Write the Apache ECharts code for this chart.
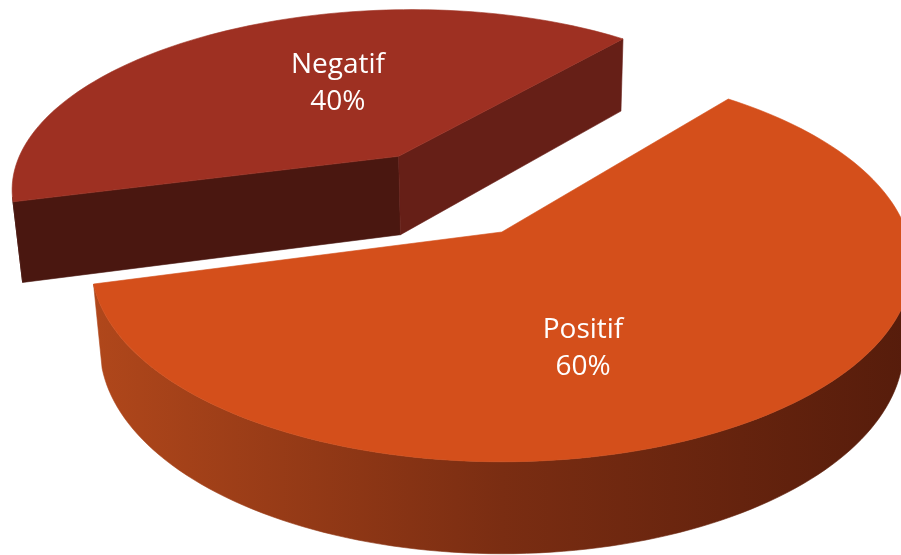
<!DOCTYPE html>
<html>
<head>
<meta charset="utf-8">
<script src="https://cdn.jsdelivr.net/npm/echarts@6/dist/echarts.min.js"></script>
<style>
html,body{margin:0;padding:0;background:#fff;}
#chart{width:901px;height:555px;}
</style>
</head>
<body>
<div id="chart"></div>
<script>
// ---- data ----
const categories = ['Negatif', 'Positif'];
const values = [40, 60];
const explode = [0.5, 0];              // explosion (fraction of radius)
// ---- style ----
const topColors = ['#9E3022', '#D44F1B'];
const startFaceColors = ['#4A1710', '#4A1710'];
const endFaceColors = ['#661F17', '#661F17'];
const sideColors = [
  ['#4A1710', '#4A1710'],
  ['#B0471B', '#7A2D12', '#561C0B']
];

// ---- 3D projection settings ----
const ROT = 195;          // first slice start angle (math degrees), slices go clockwise
const TILT = 28.4 * Math.PI / 180;
const DIST = 5.44;        // camera distance (in radii)
const THICK = 0.235;      // pie thickness (in radii)
const LABEL_R = 0.55, LABEL_ROT = -13, LABEL_DY = 8;

const chart = echarts.init(document.getElementById('chart'), null, {renderer: 'canvas'});
const total = values.reduce((a, b) => a + b, 0);
const sB = Math.sin(TILT), cB = Math.cos(TILT);

function renderItem(params, api) {
  const W = api.getWidth(), H = api.getHeight();
  const ox = W * 0.557, oy = H * 0.418, R = W * 0.4495;
  const proj = (X, Y, Z) => {
    const zc = DIST + Y * cB - Z * sB;
    const yc = Y * sB + Z * cB;
    return [ox + R * DIST * X / zc, oy - R * DIST * yc / zc];
  };
  const i = params.dataIndex;
  let start = ROT;
  for (let j = 0; j < i; j++) start -= values[j] / total * 360;
  const sweep = api.value(0) / total * 360;
  const end = start - sweep;
  const mid = start - sweep / 2;
  const rad = d => d * Math.PI / 180;
  const e = explode[i];
  const Cx = e * Math.cos(rad(mid)), Cy = e * Math.sin(rad(mid));
  const camX = 0, camY = -DIST * cB;
  const N = Math.max(8, Math.ceil(sweep / 1.5));
  const angs = [];
  for (let k = 0; k <= N; k++) angs.push(start - sweep * k / N);
  const topPts = angs.map(a => proj(Cx + Math.cos(rad(a)), Cy + Math.sin(rad(a)), 0));
  const botPts = angs.map(a => proj(Cx + Math.cos(rad(a)), Cy + Math.sin(rad(a)), -THICK));
  const apexT = proj(Cx, Cy, 0), apexB = proj(Cx, Cy, -THICK);
  const children = [];

  // curved outer side: visible runs only
  const vis = [];
  for (let k = 0; k < N; k++) {
    const a = rad((angs[k] + angs[k + 1]) / 2);
    const px = Cx + Math.cos(a), py = Cy + Math.sin(a);
    vis.push(Math.cos(a) * (camX - px) + Math.sin(a) * (camY - py) > 0);
  }
  let k = 0;
  while (k < N) {
    if (!vis[k]) { k++; continue; }
    let s = k;
    while (k < N && vis[k]) k++;
    const pts = [];
    for (let m = s; m <= k; m++) pts.push(topPts[m]);
    for (let m = k; m >= s; m--) pts.push(botPts[m]);
    const cols = sideColors[i];
    const fill = new echarts.graphic.LinearGradient(0, 0, 1, 0,
      cols.map((c, idx) => ({offset: idx / (cols.length - 1), color: c})));
    children.push({type: 'polygon', shape: {points: pts},
      style: {fill: fill, stroke: fill, lineWidth: 0.6}});
  }

  // radial faces
  const faceVisible = (nAng) => {
    const n = rad(nAng);
    return Math.cos(n) * (camX - Cx) + Math.sin(n) * (camY - Cy) > 0;
  };
  if (faceVisible(start + 90)) {
    children.push({type: 'polygon',
      shape: {points: [apexT, topPts[0], botPts[0], apexB]},
      style: {fill: startFaceColors[i], stroke: startFaceColors[i], lineWidth: 0.6}});
  }
  if (faceVisible(end - 90)) {
    children.push({type: 'polygon',
      shape: {points: [apexT, topPts[N], botPts[N], apexB]},
      style: {fill: endFaceColors[i], stroke: endFaceColors[i], lineWidth: 0.6}});
  }

  // top face
  children.push({type: 'polygon', shape: {points: [apexT].concat(topPts)},
    style: {fill: topColors[i], stroke: topColors[i], lineWidth: 0.6}});

  // label
  const la = rad(mid + LABEL_ROT);
  const lp = proj(Cx + LABEL_R * Math.cos(la), Cy + LABEL_R * Math.sin(la), 0);
  children.push({type: 'text', x: lp[0] - 2, y: lp[1] + LABEL_DY,
    style: {text: categories[i] + '\n' + Math.round(api.value(0) / total * 100) + '%',
      fill: '#FFFFFF', font: '28px "Open Sans", sans-serif', lineHeight: 37,
      align: 'center', verticalAlign: 'middle'}});

  return {type: 'group', children: children};
}

chart.setOption({
  animation: false,
  backgroundColor: '#ffffff',
  series: [{
    type: 'custom',
    coordinateSystem: 'none',
    renderItem: renderItem,
    data: values.map((v, idx) => ({name: categories[idx], value: [v]}))
  }]
});
</script>
</body>
</html>
